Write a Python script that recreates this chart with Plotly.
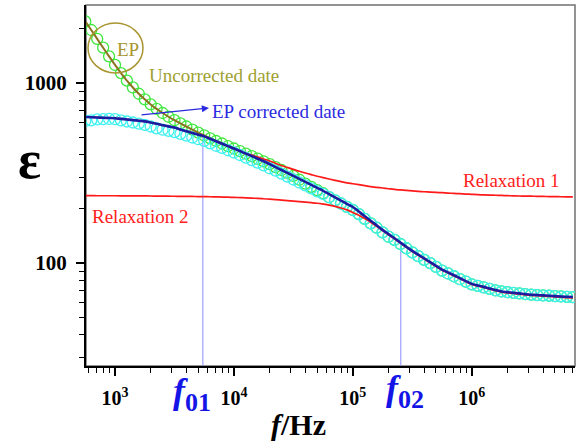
import plotly.graph_objects as go

# ---------------- data ----------------
freq = [562.3, 631.0, 707.9, 794.3, 891.3,
        1000, 1122, 1259, 1413, 1585, 1778, 1995, 2239, 2512, 2818,
        3162, 3548, 3981, 4467, 5012, 5623, 6310, 7079, 7943, 8913,
        1.000e4, 1.122e4, 1.259e4, 1.413e4, 1.585e4, 1.778e4, 1.995e4, 2.239e4, 2.512e4, 2.818e4,
        3.162e4, 3.548e4, 3.981e4, 4.467e4, 5.012e4, 5.623e4, 6.310e4, 7.079e4, 7.943e4, 8.913e4,
        1.000e5, 1.122e5, 1.259e5, 1.413e5, 1.585e5, 1.778e5, 1.995e5, 2.239e5, 2.512e5, 2.818e5,
        3.162e5, 3.548e5, 3.981e5, 4.467e5, 5.012e5, 5.623e5, 6.310e5, 7.079e5, 7.943e5, 8.913e5,
        1.000e6, 1.122e6, 1.259e6, 1.413e6, 1.585e6, 1.778e6, 1.995e6, 2.239e6, 2.512e6, 2.818e6,
        3.162e6, 3.548e6, 3.981e6, 4.467e6, 5.012e6, 5.623e6, 6.310e6, 7.079e6]

# uncorrected data (green circles)
eps_uncorrected = [2198, 1968, 1758, 1570, 1406, 1259,
                   1135, 1030, 944, 871, 811,
                   760, 718, 681, 649, 621,
                   596, 573, 551, 530, 511,
                   492, 476, 461, 446, 432.5,
                   418.7, 405.2, 392.2, 379.6, 367.3,
                   353.9, 340.9, 328.5, 316.4, 304.8,
                   290, 276, 265, 254, 244,
                   232, 223, 214, 205, 197,
                   187, 176, 166, 157, 148,
                   140, 134.6, 127.5, 120.8, 114.5,
                   109.2, 104.1, 99.9, 95.2, 90.8,
                   87.5, 84.4, 81.3, 78.9, 76.1,
                   74.6, 73.3, 71.8, 70.5, 69.5,
                   68.9, 68.3, 67.8, 67.2, 66.7,
                   66.4, 66.1, 65.8, 65.5, 65.2,
                   64.9, 64.7]

# EP corrected data (cyan circles)
eps_corrected = [615, 620, 627, 629, 631, 629,
                 620, 611, 603, 594, 585,
                 573, 560, 550, 542, 533,
                 521, 510, 498, 487, 477,
                 462, 448, 436, 423, 411,
                 398, 385, 373, 361, 349,
                 336, 326, 314, 302, 291,
                 280, 270, 260, 250, 242,
                 232, 223, 214, 205, 197,
                 187, 176, 166, 157, 148,
                 140, 134.6, 127.5, 120.8, 114.5,
                 109.2, 104.1, 99.9, 95.2, 90.8,
                 87.5, 84.4, 81.3, 78.9, 76.1,
                 74.6, 73.3, 71.8, 70.5, 69.5,
                 68.9, 68.3, 67.8, 67.2, 66.7,
                 66.4, 66.1, 65.8, 65.5, 65.2,
                 64.9, 64.7]

# fit of uncorrected data (olive line), first 26 frequencies
fit_uncorrected = [2198, 1968, 1758, 1570, 1406, 1259,
                   1135, 1030, 944, 871, 811,
                   760, 718, 681, 649, 621,
                   596, 573, 551, 530, 511,
                   492, 476, 461, 446, 432.5]

# fit of corrected data (dark blue line)
fit_corrected = [647, 645, 643, 641, 639, 637,
                 632, 627, 622, 617, 612,
                 603, 593, 583, 574, 565,
                 552, 540, 528, 516, 505,
                 489.5, 474.5, 460, 446, 432.5,
                 418.7, 405.2, 392.2, 379.6, 367.3,
                 353.9, 340.9, 328.5, 316.4, 304.8,
                 293.4, 282.4, 271.8, 261.6, 251.8,
                 241.5, 231.7, 222.3, 213.3, 204.6,
                 193.1, 182.0, 171.7, 162.0, 152.8,
                 144.7, 137.2, 130.0, 123.1, 116.7,
                 111.3, 106.1, 101.2, 96.5, 92.0,
                 88.7, 85.5, 82.4, 79.4, 76.6,
                 75.1, 73.7, 72.2, 70.9, 69.5,
                 68.9, 68.3, 67.8, 67.2, 66.7,
                 66.4, 66.1, 65.8, 65.5, 65.2,
                 64.9, 64.7]

# relaxation 1 (red, upper)
relax1 = [647, 645, 643, 641, 639, 637,
          632, 627, 622, 617, 612,
          603, 593, 583, 574, 565,
          552, 540, 528, 516, 505,
          489.5, 474.5, 460, 446, 432.5,
          418.7, 405.2, 397.2, 387.9, 378.4,
          368.5, 357.9, 348.0, 339.4, 331.2,
          323.1, 316.3, 309.7, 303.3, 297.8,
          292.8, 287.9, 283.1, 278.8, 275.5,
          272.2, 268.8, 265.7, 263.3, 260.9,
          258.5, 256.2, 254.6, 253.1, 251.5,
          250.0, 248.8, 247.7, 246.7, 245.7,
          244.6, 243.6, 242.6, 241.6, 240.6,
          239.6, 238.9, 238.3, 237.8, 237.2,
          236.7, 236.1, 235.6, 235.3, 235.0,
          234.6, 234.3, 234.0, 233.7, 233.3,
          233.0, 232.8]

# relaxation 2 (red, lower)
relax2 = [236.5, 236.5, 236.4, 236.4, 236.3, 236.3,
          236.2, 236.1, 236.0, 235.9, 235.8,
          235.6, 235.4, 235.2, 235.0, 234.8,
          234.6, 234.4, 234.2, 234.0, 233.7,
          233.3, 232.9, 232.5, 232.0, 231.5,
          230.9, 230.2, 229.4, 228.5, 227.4,
          226.2, 224.9, 223.5, 222.1, 220.6,
          219.2, 217.7, 216.3, 214.8, 212.5,
          209.8, 206.2, 202.0, 197.2, 191.0,
          184.0, 176.5, 168.5, 160.0, 151.4,
          143.5, 136.1, 129.0, 122.1, 115.8,
          110.4, 105.3, 100.4, 95.7, 91.3,
          88.0, 84.8, 81.7, 78.7, 76.0,
          74.5, 73.1, 71.6, 70.3, 68.9,
          68.3, 67.7, 67.2, 66.6, 66.1,
          65.8, 65.5, 65.2, 64.9, 64.6,
          64.3, 64.1]

# characteristic frequencies and the fit value where the marker lines end
f0_freq = [5480, 2.53e5]
f0_top = [507, 130]
f0_labels = ["01", "02"]

x_tick_vals = [1e3, 1e4, 1e5, 1e6]
x_tick_text = ["<b>10<sup>3</sup></b>", "<b>10<sup>4</sup></b>",
               "<b>10<sup>5</sup></b>", "<b>10<sup>6</sup></b>"]
y_tick_vals = [100, 1000]
y_tick_text = ["<b>100</b>", "<b>1000</b>"]
x_minor = [600, 700, 800, 900, 2e3, 3e3, 4e3, 5e3, 6e3, 7e3, 8e3, 9e3,
           2e4, 3e4, 4e4, 5e4, 6e4, 7e4, 8e4, 9e4,
           2e5, 3e5, 4e5, 5e5, 6e5, 7e5, 8e5, 9e5,
           2e6, 3e6, 4e6, 5e6, 6e6, 7e6]
y_minor = [30, 40, 50, 60, 70, 80, 90, 200, 300, 400, 500, 600, 700, 800, 900, 2000]

for arr in (eps_uncorrected, eps_corrected, fit_corrected, relax1, relax2):
    assert len(arr) == len(freq), len(arr)

# ---------------- figure ----------------
FONT = "Liberation Serif, Times New Roman, serif"
W, H = 579, 443
ML, MR, MT, MB = 86, 4, 5, 77
PW, PH = W - ML - MR, H - MT - MB


def px(xp):
    return (xp - ML) / PW


def py(yp):
    return (H - MB - yp) / PH


fig = go.Figure()

for f, top in zip(f0_freq, f0_top):
    fig.add_trace(go.Scatter(x=[f, f], y=[10, top], mode="lines",
                             line=dict(color="#8c8cff", width=1), hoverinfo="skip"))

fig.add_trace(go.Scatter(x=freq, y=eps_uncorrected, mode="markers",
                         marker=dict(symbol="circle-open", size=11, color="#3ee83e",
                                     line=dict(width=1.3, color="#3ee83e"))))
fig.add_trace(go.Scatter(x=freq, y=eps_corrected, mode="markers",
                         marker=dict(symbol="circle-open", size=11, color="#3ef0f0",
                                     line=dict(width=1.3, color="#3ef0f0"))))
fig.add_trace(go.Scatter(x=freq[:len(fit_uncorrected)], y=fit_uncorrected, mode="lines",
                         line=dict(color="#8a7420", width=2, shape="spline")))
fig.add_trace(go.Scatter(x=freq, y=relax1, mode="lines",
                         line=dict(color="#ff1a1a", width=1.7, shape="spline")))
fig.add_trace(go.Scatter(x=freq, y=relax2, mode="lines",
                         line=dict(color="#ff1a1a", width=1.7, shape="spline")))
fig.add_trace(go.Scatter(x=freq, y=fit_corrected, mode="lines",
                         line=dict(color="#1c1ca0", width=2.6, shape="spline")))

fig.update_xaxes(type="log", range=[2.756, 6.868],
                 tickvals=x_tick_vals, ticktext=x_tick_text,
                 ticks="outside", ticklen=8, tickwidth=1.5, tickcolor="black",
                 ticklabelstandoff=5,
                 minor=dict(tickvals=x_minor, ticks="outside", ticklen=5, tickwidth=1.2, tickcolor="black"),
                 showline=True, linecolor="black", linewidth=2, showgrid=False, zeroline=False,
                 tickfont=dict(family=FONT, size=20, color="black"))
fig.update_yaxes(type="log", range=[1.428, 3.433],
                 tickvals=y_tick_vals, ticktext=y_tick_text,
                 ticks="outside", ticklen=8, tickwidth=1.5, tickcolor="black",
                 ticklabelstandoff=5,
                 minor=dict(tickvals=y_minor, ticks="outside", ticklen=5, tickwidth=1.2, tickcolor="black"),
                 showline=True, linecolor="black", linewidth=2, showgrid=False, zeroline=False,
                 tickfont=dict(family=FONT, size=21, color="black"))

shapes = [
    dict(type="rect", xref="paper", yref="paper", x0=0, x1=1, y0=0, y1=1,
         line=dict(color="#707070", width=1.5), layer="below"),
    dict(type="circle", xref="paper", yref="paper",
         x0=px(88), x1=px(143), y0=py(73), y1=py(23),
         line=dict(color="#a89530", width=1.5)),
]

SUB = "<sub><span style='font-size:26px'>{}</span></sub>"
annotations = [
    dict(x=px(127.5), y=py(49.5), text="EP", font=dict(family=FONT, size=19, color="#a89530")),
    dict(x=px(147), y=py(75.5), text="Uncorrected date", xanchor="left",
         font=dict(family=FONT, size=19, color="#a0a032")),
    dict(x=px(210), y=py(111.5), text="EP corrected date", xanchor="left",
         font=dict(family=FONT, size=19, color="#2a2ae0")),
    dict(x=px(209), y=py(108), ax=-69, ay=7, text="", showarrow=True,
         arrowcolor="#2a2ae0", arrowwidth=1.3, arrowhead=2, arrowsize=1.1),
    dict(x=px(562), y=py(180), text="Relaxation 1", xanchor="right",
         font=dict(family=FONT, size=19, color="#ff2020")),
    dict(x=px(90), y=py(216), text="Relaxation 2", xanchor="left",
         font=dict(family=FONT, size=19, color="#ff2020")),
    dict(x=px(29), y=py(160), text="<b>ε</b>", font=dict(family=FONT, size=54, color="black")),
    dict(x=px(298), y=py(424), text="<b><i>f</i>/Hz</b>", font=dict(family=FONT, size=30, color="black")),
    dict(x=px(171), y=py(419), text="<b><i>f</i>" + SUB.format(f0_labels[0]) + "</b>",
         xanchor="left", yanchor="bottom", font=dict(family=FONT, size=36, color="#1414e6")),
    dict(x=px(384), y=py(416), text="<b><i>f</i>" + SUB.format(f0_labels[1]) + "</b>",
         xanchor="left", yanchor="bottom", font=dict(family=FONT, size=36, color="#1414e6")),
]
for a in annotations:
    a.setdefault("xref", "paper")
    a.setdefault("yref", "paper")
    a.setdefault("showarrow", False)
    a.setdefault("xanchor", "center")
    a.setdefault("yanchor", "middle")

fig.update_layout(width=W, height=H, margin=dict(l=ML, r=MR, t=MT, b=MB),
                  plot_bgcolor="white", paper_bgcolor="white", showlegend=False,
                  shapes=shapes, annotations=annotations,
                  font=dict(family=FONT))

fig.write_html("out.html")
